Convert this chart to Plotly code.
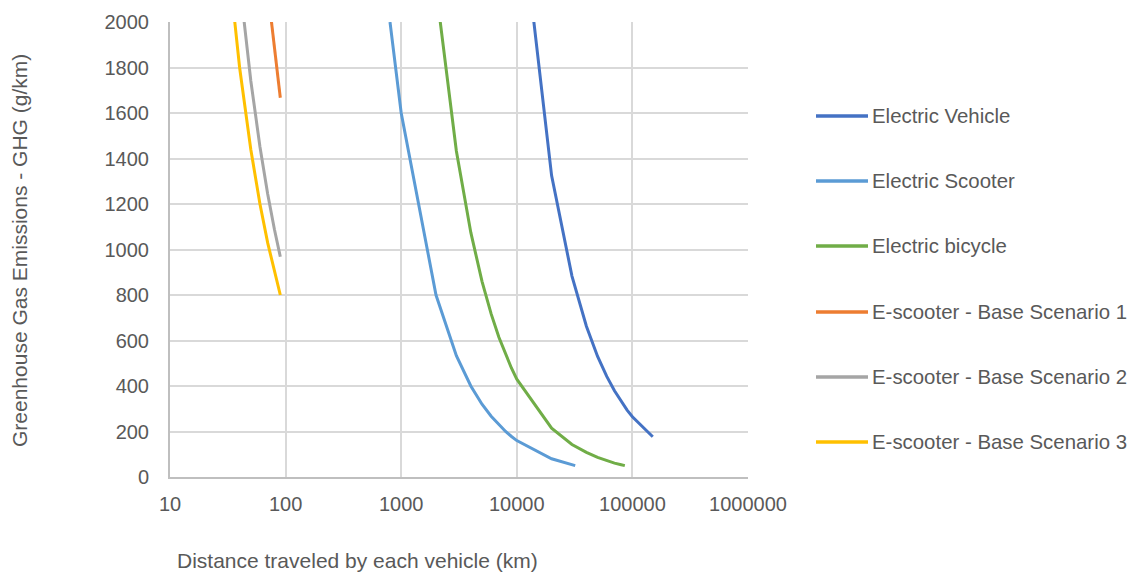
import plotly.graph_objects as go

# ---- data ----
ev_x = [10000, 20000, 30000, 40000, 50000, 60000, 70000, 80000, 90000, 100000, 150000]
ev_y = [2650, 1325, 883, 663, 530, 442, 379, 331, 294, 265, 177]

escooter_x = [800, 1000, 2000, 3000, 4000, 5000, 6000, 7000, 8000, 9000, 10000, 20000, 32000]
escooter_y = [2000, 1600, 800, 533, 400, 320, 267, 229, 200, 178, 160, 80, 50]

ebike_x = [1000, 2000, 3000, 4000, 5000, 6000, 7000, 8000, 9000, 10000, 20000, 30000,
           40000, 50000, 60000, 70000, 80000, 86000]
ebike_y = [4300, 2150, 1433, 1075, 860, 717, 614, 538, 478, 430, 215, 143,
           108, 86, 72, 61, 54, 50]

s1_x = [70, 80, 90]
s1_y = [2143, 1875, 1667]

s2_x = [40, 50, 60, 70, 80, 90]
s2_y = [2178, 1742, 1452, 1244, 1089, 968]

s3_x = [30, 40, 50, 60, 70, 80, 90]
s3_y = [2400, 1800, 1440, 1200, 1029, 900, 800]

series_names = ["Electric Vehicle", "Electric Scooter", "Electric bicycle",
                "E-scooter - Base Scenario 1", "E-scooter - Base Scenario 2",
                "E-scooter - Base Scenario 3"]
series_colors = ["#4472C4", "#5B9BD5", "#70AD47", "#ED7D31", "#A5A5A5", "#FFC000"]
series_x = [ev_x, escooter_x, ebike_x, s1_x, s2_x, s3_x]
series_y = [ev_y, escooter_y, ebike_y, s1_y, s2_y, s3_y]

x_tickvals = [10, 100, 1000, 10000, 100000, 1000000]
x_ticktext = ["10", "100", "1000", "10000", "100000", "1000000"]
y_tickvals = [0, 200, 400, 600, 800, 1000, 1200, 1400, 1600, 1800, 2000]

x_title = "Distance traveled by each vehicle (km)"
y_title = "Greenhouse Gas Emissions - GHG (g/km)"

# ---- layout geometry ----
W, H = 1133, 573
L, R, T, B = 170, 748, 22, 477
FONT = "Liberation Sans, Arial, sans-serif"
TXT = "#595959"
FS = 21
LEG_FS = 20.4
TICK_FS = 20

def px_x(p):
    return (p - L) / (R - L)

def px_y(p):
    return (B - p) / (B - T)

fig = go.Figure()
for name, color, xs, ys in zip(series_names, series_colors, series_x, series_y):
    fig.add_trace(go.Scatter(x=xs, y=ys, mode="lines", name=name,
                             line=dict(color=color, width=3), showlegend=False))

# manual legend
shapes = []
annotations = []
legend_y = [116, 181, 246, 312, 377, 442]
for name, color, ly in zip(series_names, series_colors, legend_y):
    shapes.append(dict(type="line", xref="paper", yref="paper",
                       x0=px_x(816), x1=px_x(868), y0=px_y(ly), y1=px_y(ly),
                       line=dict(color=color, width=3.5)))
    annotations.append(dict(xref="paper", yref="paper", x=px_x(870), y=px_y(ly),
                            text=name, showarrow=False, xanchor="left", yanchor="middle",
                            font=dict(family=FONT, size=LEG_FS, color=TXT)))

annotations.append(dict(xref="paper", yref="paper", x=px_x(357.5), y=px_y(573),
                        text=x_title, showarrow=False, xanchor="center", yanchor="bottom",
                        borderpad=0,
                        font=dict(family=FONT, size=FS, color=TXT)))
annotations.append(dict(xref="paper", yref="paper", x=px_x(19), y=px_y(251),
                        text=y_title, showarrow=False, xanchor="center", yanchor="middle",
                        textangle=-90,
                        font=dict(family=FONT, size=FS, color=TXT)))

fig.update_layout(
    width=W, height=H,
    margin=dict(l=L, r=W - R, t=T, b=H - B, pad=0),
    paper_bgcolor="white", plot_bgcolor="white",
    font=dict(family=FONT, size=TICK_FS, color=TXT),
    shapes=shapes, annotations=annotations,
    showlegend=False,
)
fig.update_xaxes(type="log", range=[1, 6], tickvals=x_tickvals, ticktext=x_ticktext,
                 showgrid=True, gridcolor="#D9D9D9", gridwidth=2,
                 showline=True, linecolor="#BFBFBF", linewidth=2,
                 ticks="", ticklabelstandoff=8, zeroline=False,
                 tickfont=dict(family=FONT, size=TICK_FS, color=TXT))
fig.update_yaxes(range=[0, 2000], tickvals=y_tickvals,
                 showgrid=True, gridcolor="#D9D9D9", gridwidth=2,
                 showline=True, linecolor="#BFBFBF", linewidth=2,
                 ticks="", ticklabelstandoff=15, zeroline=False,
                 tickfont=dict(family=FONT, size=TICK_FS, color=TXT))

fig.write_html("out.html")
